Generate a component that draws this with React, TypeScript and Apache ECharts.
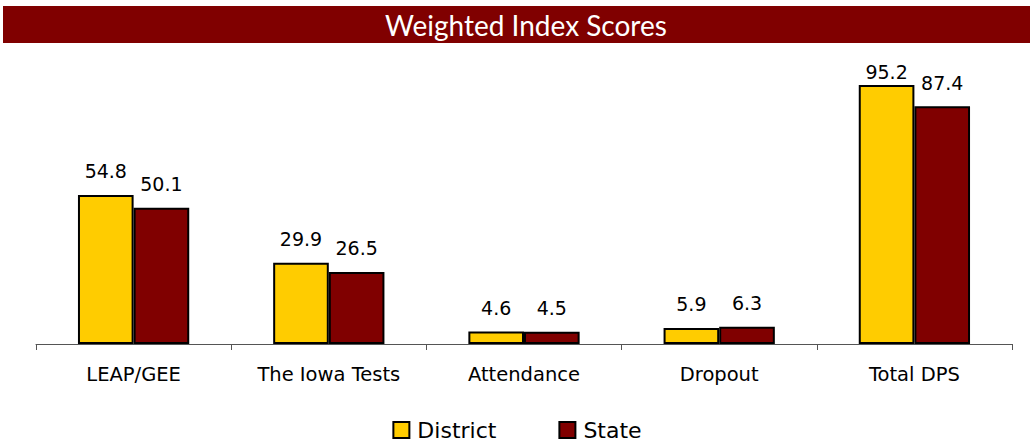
import React, { useEffect, useRef } from "react";
import * as echarts from "echarts";

const categories = ["LEAP/GEE", "The Iowa Tests", "Attendance", "Dropout", "Total DPS"];
const districtValues = [54.8, 29.9, 4.6, 5.9, 95.2];
const stateValues = [50.1, 26.5, 4.5, 6.3, 87.4];
const titleText = "Weighted Index Scores";

export default function App() {
  const ref = useRef<HTMLDivElement>(null);
  useEffect(() => {
    document.body.style.margin = "0";
    const chart = echarts.init(ref.current!, null, { renderer: "svg" });
    const font = "'DejaVu Sans', Arial, sans-serif";
    const mkData = (vals: number[]) =>
      vals.map((v, i) =>
        i === 4 && vals === districtValues
          ? { value: v, label: { distance: 4 } }
          : { value: v }
      );
    chart.setOption({
      animation: false,
      backgroundColor: "#ffffff",
      graphic: [
        {
          type: "rect",
          shape: { x: 3, y: 6, width: 1027, height: 37 },
          style: { fill: "#800000" },
          silent: true,
        },
        {
          type: "text",
          x: 526,
          y: 25,
          style: {
            text: titleText,
            fill: "#ffffff",
            font: "28px Lato, 'Open Sans', sans-serif",
            align: "center",
            verticalAlign: "middle",
          },
        },
      ],
      legend: {
        top: 413,
        left: "center",
        icon: "rect",
        itemWidth: 16,
        itemHeight: 16,
        itemGap: 62,
        textStyle: { fontFamily: font, fontSize: 22, color: "#000", padding: [0, 0, 0, 3], lineHeight: 24 },
        data: ["District", "State"],
      },
      grid: { left: 36, right: 22, top: 72, bottom: 101, containLabel: false },
      xAxis: {
        type: "category",
        data: categories,
        axisLine: { lineStyle: { color: "#555", width: 1 } },
        axisTick: { show: true, length: 6, lineStyle: { color: "#555" } },
        axisLabel: { fontFamily: font, fontSize: 19.5, color: "#000", margin: 20 },
      },
      yAxis: {
        type: "value",
        min: 0,
        max: 100,
        show: false,
        splitLine: { show: false },
      },
      series: [
        {
          name: "District",
          type: "bar",
          data: mkData(districtValues),
          barGap: "0%",
          barCategoryGap: "43%",
          itemStyle: { color: "#FFCC00", borderColor: "#000", borderWidth: 2 },
          label: {
            show: true,
            position: "top",
            distance: 14,
            fontFamily: font,
            fontSize: 19,
            color: "#000",
          },
        },
        {
          name: "State",
          type: "bar",
          data: mkData(stateValues),
          itemStyle: { color: "#800000", borderColor: "#000", borderWidth: 2 },
          label: {
            show: true,
            position: "top",
            distance: 14,
            fontFamily: font,
            fontSize: 19,
            color: "#000",
          },
        },
      ],
    });
    return () => chart.dispose();
  }, []);
  return <div ref={ref} style={{ width: 1034, height: 445 }} />;
}
